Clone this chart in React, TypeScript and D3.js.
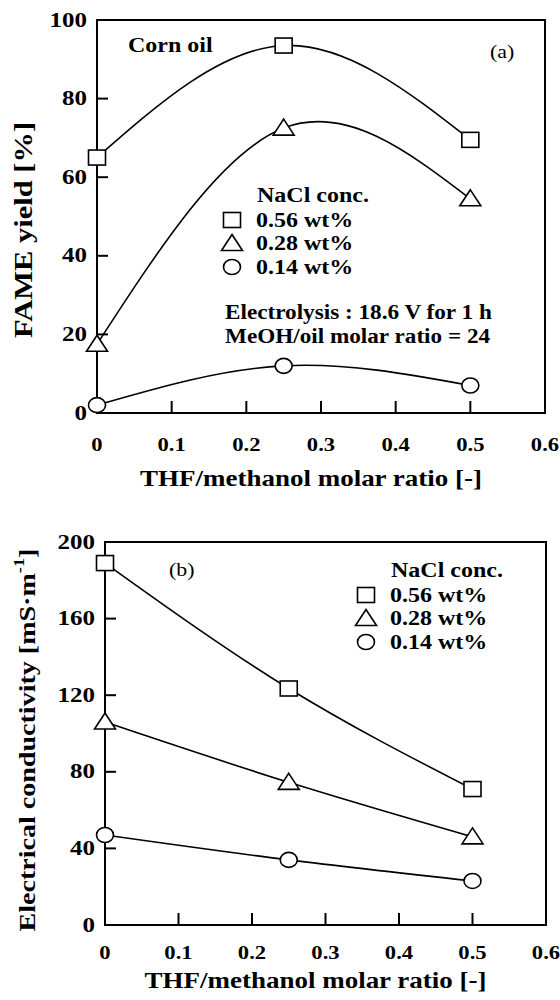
import React from 'react';
import { scaleLinear, line, curveNatural } from 'd3';

// x values shared by both panels
const thfRatio = [0, 0.25, 0.5];
const xTicks = [0, 0.1, 0.2, 0.3, 0.4, 0.5, 0.6];

// panel (a): FAME yield [%]
const yieldTicks = [0, 20, 40, 60, 80, 100];
const yield056 = [65, 93.5, 69.5];
const yield028 = [17.5, 72.5, 54.5];
const yield014 = [2, 12, 7];

// panel (b): electrical conductivity [mS/m]
const condTicks = [0, 40, 80, 120, 160, 200];
const cond056 = [189, 123.5, 71];
const cond028 = [106, 74.5, 46];
const cond014 = [47, 34, 23];

const legendLabels = ['0.56 wt%', '0.28 wt%', '0.14 wt%'];
const markerKinds = ['square', 'triangle', 'circle'];

const font = 'Liberation Serif';

// text stretched along its own direction, the original lettering is wide
const T = ({ x, y, size = 20, sx = 1.2, anchor = 'start', bold = true, rotate = 0, children }) => (
  <text
    transform={`translate(${x},${y}) rotate(${rotate}) scale(${sx},1)`}
    textAnchor={anchor}
    dominantBaseline="central"
    fontSize={size}
    fontWeight={bold ? 'bold' : 'normal'}
  >
    {children}
  </text>
);

const Marker = ({ kind, x, y }) => {
  const st = { fill: 'white', stroke: 'black', strokeWidth: 1.6 };
  if (kind === 'square') return <rect x={x - 8.5} y={y - 7.5} width={17} height={15} {...st} />;
  if (kind === 'circle') return <ellipse cx={x} cy={y} rx={8.5} ry={7.5} {...st} />;
  return <path d={`M${x},${y - 9}L${x + 10.5},${y + 7}L${x - 10.5},${y + 7}Z`} {...st} />;
};

const Panel = ({ box, yMax, yTicks, series, yTitle, tickY, titleY, children }) => {
  const x = scaleLinear().domain([0, 0.6]).range([box.left, box.right]);
  const y = scaleLinear().domain([0, yMax]).range([box.bottom, box.top]);
  const gen = line()
    .x((d) => x(d[0]))
    .y((d) => y(d[1]))
    .curve(curveNatural);
  return (
    <g>
      {series.map((vals, i) => (
        <path
          key={i}
          d={gen(thfRatio.map((t, j) => [t, vals[j]]))}
          fill="none"
          stroke="black"
          strokeWidth={1.6}
        />
      ))}
      <rect
        x={box.left}
        y={box.top}
        width={box.right - box.left}
        height={box.bottom - box.top}
        fill="none"
        stroke="black"
        strokeWidth={2}
      />
      {yTicks.map((t) => (
        <g key={t}>
          {t > 0 && t < yMax && (
            <line x1={box.left} x2={box.left + 11} y1={y(t)} y2={y(t)} stroke="black" strokeWidth={2} />
          )}
          <T x={box.left - 10} y={y(t)} anchor="end" sx={1.25}>
            {t}
          </T>
        </g>
      ))}
      {xTicks.map((t) => (
        <g key={t}>
          {t > 0 && t < 0.6 && (
            <line x1={x(t)} x2={x(t)} y1={box.bottom} y2={box.bottom - 12} stroke="black" strokeWidth={2} />
          )}
          <T x={x(t)} y={tickY} anchor="middle" size={19.5} sx={1.16}>
            {t}
          </T>
        </g>
      ))}
      {series.map((vals, i) =>
        thfRatio.map((t, j) => <Marker key={`${i}-${j}`} kind={markerKinds[i]} x={x(t)} y={y(vals[j])} />)
      )}
      <T x={(box.left + box.right) / 2 - 10} y={titleY} anchor="middle" size={22.5}>
        THF/methanol molar ratio  [-]
      </T>
      <T x={yTitle.x} y={yTitle.y} anchor="middle" size={yTitle.size} sx={1.22} rotate={-90}>
        {yTitle.content}
      </T>
      {children}
    </g>
  );
};

const Legend = ({ x, y }) => (
  <g>
    <T x={x + 25} y={y}>NaCl conc.</T>
    {legendLabels.map((l, i) => (
      <g key={l}>
        <Marker kind={markerKinds[i]} x={x} y={y + 25 + i * 23.5} />
        <T x={x + 24} y={y + 25 + i * 23.5}>{l}</T>
      </g>
    ))}
  </g>
);

// absolutely placed so the page never scrolls and the whole 560x1000 frame is used
const App = () => (
  <svg
    width={560}
    height={1000}
    fontFamily={font}
    style={{ position: 'absolute', top: 0, left: 0, display: 'block', background: 'white' }}
  >
    <g fontFamily={font}>
      <Panel
        box={{ left: 97, right: 545, top: 20, bottom: 413 }}
        yMax={100}
        yTicks={yieldTicks}
        series={[yield056, yield028, yield014]}
        tickY={445}
        titleY={478}
        yTitle={{ x: 23, y: 230, size: 25, content: 'FAME yield  [%]' }}
      >
        <T x={128} y={45}>Corn oil</T>
        <T x={490} y={52} size={19} sx={1.15} bold={false}>(a)</T>
        <Legend x={232} y={195} />
        <T x={225} y={313} sx={1.16}>Electrolysis : 18.6 V for 1 h</T>
        <T x={225} y={337} sx={1.16}>MeOH/oil molar ratio = 24</T>
      </Panel>
      <Panel
        box={{ left: 105, right: 546, top: 542, bottom: 925 }}
        yMax={200}
        yTicks={condTicks}
        series={[cond056, cond028, cond014]}
        tickY={953}
        titleY={980}
        yTitle={{
          x: 27,
          y: 740,
          size: 23,
          content: (
            <>
              Electrical conductivity [mS·m
              <tspan dy={-8} fontSize={15}>-1</tspan>
              <tspan dy={8}>]</tspan>
            </>
          ),
        }}
      >
        <T x={169} y={570} size={19} sx={1.15} bold={false}>(b)</T>
        <Legend x={366} y={570} />
      </Panel>
    </g>
  </svg>
);

export default App;
